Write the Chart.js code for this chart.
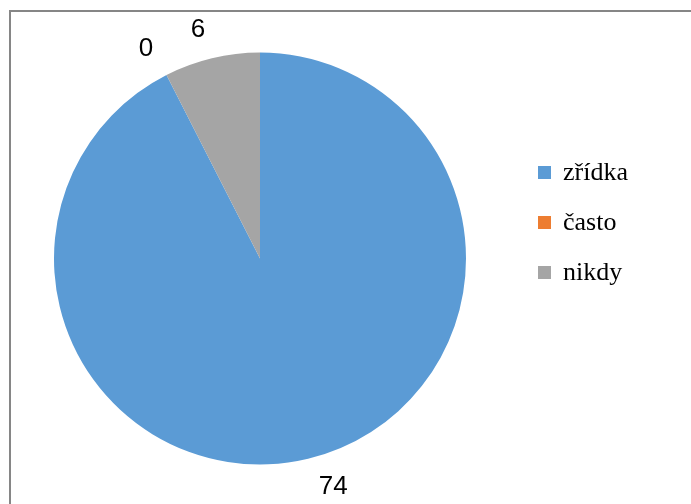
<!DOCTYPE html>
<html>
<head>
<meta charset="utf-8">
<script src="https://cdn.jsdelivr.net/npm/chart.js@4"></script>
<style>
  body { margin: 0; background: #fff; }
  canvas { display: block; }
</style>
</head>
<body>
<canvas id="pieChart" width="691" height="504"></canvas>
<script>
// data
const categories = ['zřídka', 'často', 'nikdy'];
const values = [74, 0, 6];
const colors = ['#5B9BD5', '#ED7D31', '#A5A5A5'];

// frame around the chart
const framePlugin = {
  id: 'frame',
  beforeDraw(chart) {
    const c = chart.ctx;
    c.save();
    c.strokeStyle = '#868686';
    c.lineWidth = 2;
    c.strokeRect(10, 11, chart.width + 20, chart.height + 20);
    c.restore();
  }
};

// value labels outside each slice
const valueLabels = {
  id: 'valueLabels',
  afterDatasetsDraw(chart) {
    const c = chart.ctx;
    const meta = chart.getDatasetMeta(0);
    c.save();
    c.font = '26px "Liberation Sans", Arial, sans-serif';
    c.fillStyle = '#000';
    c.textBaseline = 'middle';
    meta.data.forEach((arc, i) => {
      const p = arc.getProps(['x', 'y', 'startAngle', 'endAngle', 'outerRadius'], true);
      const mid = (p.startAngle + p.endAngle) / 2;
      const r = p.outerRadius + 29;
      const x = p.x + Math.cos(mid) * r;
      const y = p.y + Math.sin(mid) * r;
      c.textAlign = x >= p.x ? 'left' : 'right';
      c.fillText(String(values[i]), x + (x >= p.x ? 4 : 0), y);
    });
    c.restore();
  }
};

// legend on the right
const sideLegend = {
  id: 'sideLegend',
  afterDraw(chart) {
    const c = chart.ctx;
    c.save();
    c.font = '26px "Liberation Serif", "Times New Roman", serif';
    c.textBaseline = 'middle';
    c.textAlign = 'left';
    categories.forEach((name, i) => {
      const y = 172 + i * 50;
      c.fillStyle = colors[i];
      c.fillRect(538, y - 6, 13, 13);
      c.fillStyle = '#000';
      c.fillText(name, 563, y + 1);
    });
    c.restore();
  }
};

const ctx = document.getElementById('pieChart').getContext('2d');

const config = {
  type: 'pie',
  data: {
    labels: categories,
    datasets: [{
      data: values,
      backgroundColor: colors,
      borderWidth: 0
    }]
  },
  options: {
    responsive: false,
    animation: false,
    layout: {
      padding: { top: 52, bottom: 39, left: 54, right: 225 }
    },
    plugins: {
      legend: { display: false },
      tooltip: { enabled: false }
    }
  },
  plugins: [framePlugin, valueLabels, sideLegend]
};

const pieChart = new Chart(ctx, config);
</script>
</body>
</html>
